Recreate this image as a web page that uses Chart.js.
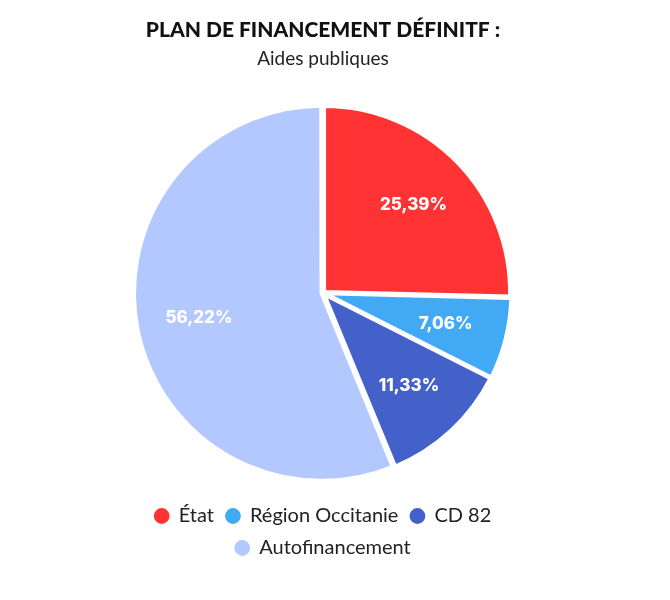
<!DOCTYPE html>
<html><head><meta charset="utf-8">
<script src="https://cdn.jsdelivr.net/npm/chart.js@4"></script>
<style>body{margin:0;background:#fff}#w{width:670px;height:600px}</style>
</head><body><div id="w"><canvas id="c"></canvas></div>
<script>
const categories=["État","Région Occitanie","CD 82","Autofinancement"];
const values=[25.39,7.06,11.33,56.22];
const labels=["25,39%","7,06%","11,33%","56,22%"];
const colors=["#FF3333","#42AAF5","#4361C8","#B3C8FF"];
const lbl={id:'lbl',afterDatasetsDraw(ch){const ctx=ch.ctx;const m=ch.getDatasetMeta(0);
ctx.save();ctx.font="800 17px Inter, Lato";ctx.fillStyle="#fff";ctx.textAlign="center";ctx.textBaseline="middle";
m.data.forEach((a,i)=>{const p=a.getProps(['x','y','startAngle','endAngle','outerRadius']);const ang=(p.startAngle+p.endAngle)/2;const r=p.outerRadius*0.68;
ctx.fillText(labels[i],p.x+Math.cos(ang)*r,p.y+Math.sin(ang)*r);});ctx.restore();}};
new Chart(document.getElementById('c'),{type:'pie',
data:{labels:categories,datasets:[{data:values,backgroundColor:colors,borderColor:"#fff",borderWidth:4,offset:6}]},
options:{responsive:true,maintainAspectRatio:false,animation:false,
layout:{padding:{top:0,bottom:32,left:132,right:156}},
plugins:{tooltip:{enabled:false},
title:{display:true,text:"PLAN DE FINANCEMENT DÉFINITF :",color:"#111",font:{family:"Lato",size:21,weight:"900"},padding:{top:18,bottom:0}},
subtitle:{display:true,text:"Aides publiques",color:"#222",font:{family:"Lato",size:19},padding:{top:4,bottom:22}},
legend:{position:'bottom',fullSize:true,labels:{usePointStyle:true,pointStyle:'circle',boxWidth:14,boxHeight:14,color:"#222",font:{family:"Lato",size:20},padding:12}}
}},plugins:[lbl]});
</script></body></html>
